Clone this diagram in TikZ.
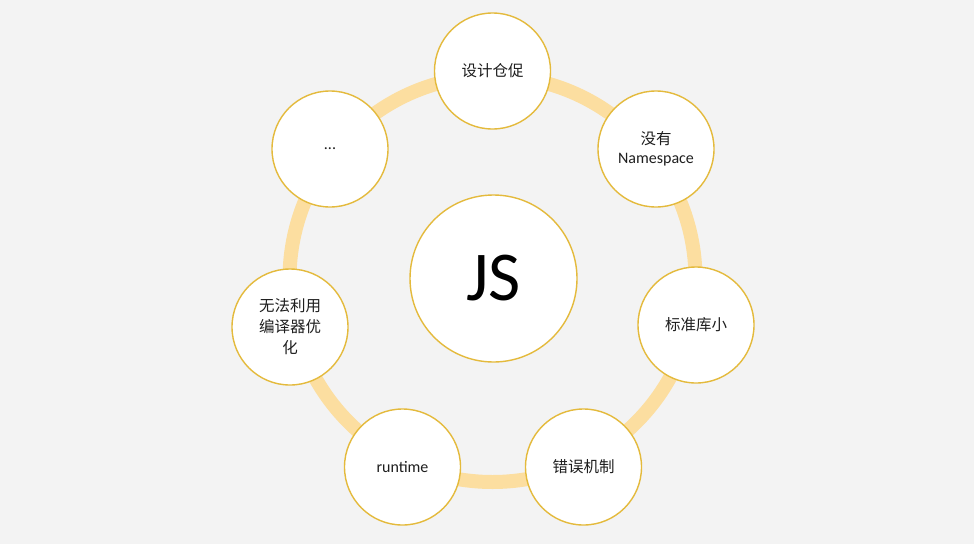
\documentclass[tikz,border=0pt]{standalone}
\usepackage{fontspec}
\setmainfont{Carlito}
\newfontfamily\cjk{Noto Sans CJK SC}
\definecolor{bgc}{RGB}{243,243,243}
\definecolor{ringc}{RGB}{252,222,160}
\definecolor{edgec}{RGB}{228,186,60}
\definecolor{txtc}{RGB}{30,30,30}
\begin{document}
\begin{tikzpicture}[x=1pt,y=-1pt,
  item/.style={circle,draw=edgec,line width=1.4pt,fill=white,minimum size=116pt,inner sep=0pt,text=txtc,align=center,font=\cjk\fontsize{15.5}{20}\selectfont},
  hub/.style={circle,draw=edgec,line width=1.4pt,fill=white,minimum size=167pt,inner sep=0pt,text=black,font=\fontsize{70}{70}\selectfont}]
\fill[bgc] (0,0) rectangle (974,544);
\useasboundingbox (0,0) rectangle (974,544);
\coordinate (c) at (492.5,279);
\draw[ringc,line width=14pt] (c) circle[radius=203pt];
\node[hub] (js) at (493.5,278.5) {JS};
\node[item] (n1) at (492.5,71) {设计仓促};
\node[item] (n2) at (656,149) {没有\\[-1pt]{\fontspec{Carlito}\fontsize{16}{19}\selectfont Namespace}};
\node[item] (n3) at (696,325) {标准库小};
\node[item] (n4) at (583.5,467) {错误机制};
\node[item] (n5) at (402.5,467) {\fontspec{Carlito}\fontsize{16}{19}\selectfont runtime};
\node[item,font=\cjk\fontsize{15.5}{21}\selectfont] (n6) at (290,327) {无法利用\\编译器优\\化};
\node[item] (n7) at (330,149) {\fontspec{Carlito}\fontsize{16}{19}\selectfont ...};
\end{tikzpicture}
\end{document}
